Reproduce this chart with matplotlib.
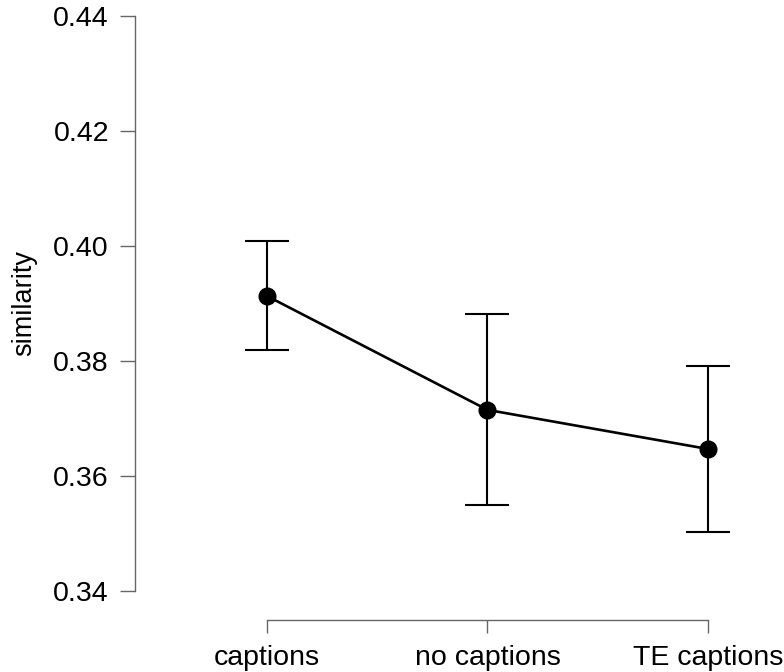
import matplotlib.pyplot as plt

conditions = ['captions', 'no captions', 'TE captions']
means = [0.3913, 0.3715, 0.3647]
upper = [0.4009, 0.3882, 0.3791]
lower = [0.3819, 0.3550, 0.3503]
y_ticks = [0.34, 0.36, 0.38, 0.40, 0.42, 0.44]

plt.rcParams['font.family'] = ['Liberation Sans', 'DejaVu Sans']

x = list(range(1, len(conditions) + 1))
err_lo = [m - l for m, l in zip(means, lower)]
err_hi = [u - m for m, u in zip(means, upper)]

fig = plt.figure(figsize=(7.84, 6.72), dpi=100)
ax = fig.add_axes([135 / 784, 52 / 672, 649 / 784, 604 / 672])

ax.errorbar(x, means, yerr=[err_lo, err_hi], fmt='none', ecolor='black',
            elinewidth=1.5, capsize=15.8, capthick=1.5, zorder=2)
ax.plot(x, means, color='black', linewidth=1.9, marker='o', markersize=12, zorder=3)

ax.set_xlim(0.401, 3.345)
ax.set_ylim(0.33496, 0.44)
ax.set_xticks(x)
ax.set_xticklabels(conditions)
ax.set_yticks(y_ticks)
ax.set_yticklabels([f'{v:.2f}' for v in y_ticks])

for s in ['top', 'right']:
    ax.spines[s].set_visible(False)
ax.spines['left'].set_bounds(0.34, 0.44)
ax.spines['bottom'].set_bounds(1, 3)
for s in ['left', 'bottom']:
    ax.spines[s].set_color('#666666')
    ax.spines[s].set_linewidth(1)

ax.tick_params(axis='y', direction='out', length=10.8, width=1, color='#666666',
               labelsize=20.5, pad=8)
ax.tick_params(axis='x', direction='out', length=9.4, width=1, color='#666666',
               labelsize=20.5, pad=8.5)

ax.set_ylabel('similarity', fontsize=19.5)
ax.yaxis.set_label_coords(-0.15, 0.525)

fig.savefig('out.png', dpi=100)
